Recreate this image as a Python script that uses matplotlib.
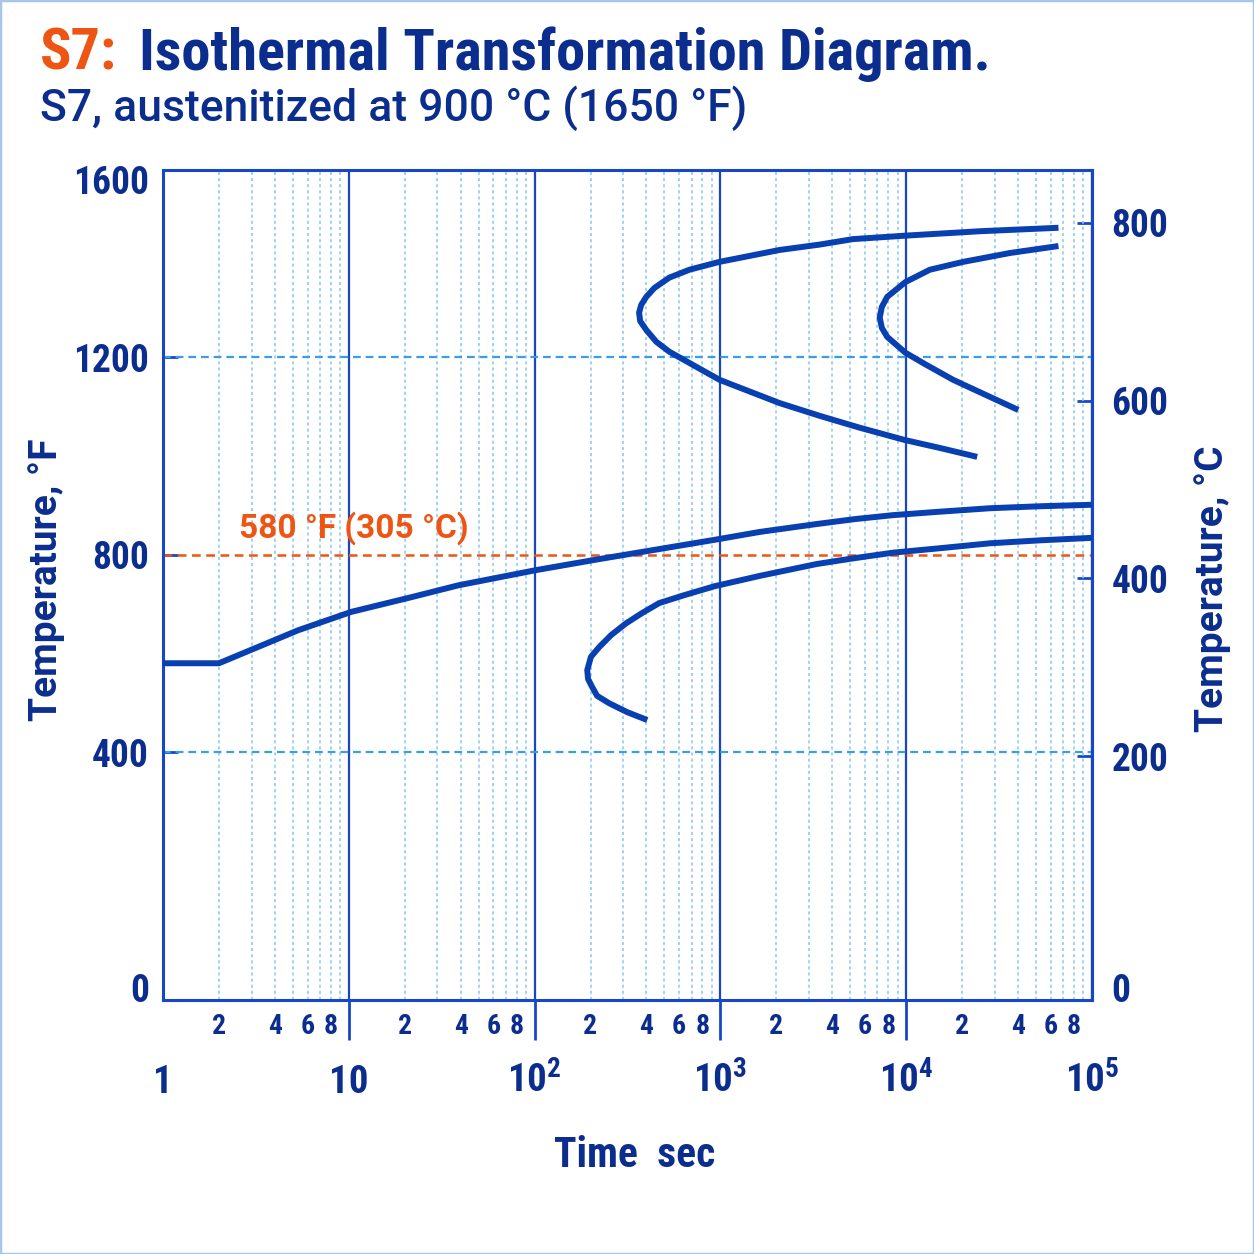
import numpy as np
import matplotlib
matplotlib.use('Agg')
import matplotlib.pyplot as plt
import matplotlib.transforms as mtransforms
from matplotlib.ticker import FixedLocator, FuncFormatter

plt.rcParams['font.family'] = ['Roboto Condensed', 'DejaVu Sans']
plt.rcParams['mathtext.fontset'] = 'custom'
plt.rcParams['mathtext.rm'] = 'Roboto Condensed:bold'
plt.rcParams['mathtext.bf'] = 'Roboto Condensed:bold'

# colours
TEXT_BLUE = '#0B2D8E'
CURVE_BLUE = '#0840B2'
AXIS_BLUE = '#1747C6'
GRID_LIGHT = '#86C6F2'
GRID_DASH = '#3B9CEB'
ORANGE = '#EE5412'

# curves: time in s, temperature in °F
# upper C-curve (outer)
outer_t = [66000, 25000, 9860, 5160, 3430, 2080, 990, 681, 531, 441, 399, 375, 365, 370, 399,
           452, 531, 990, 2080, 3430, 5630, 9860, 15200, 24100]
outer_f = [1462, 1455, 1446, 1439, 1428, 1417, 1393, 1377, 1361, 1340, 1322, 1306, 1290, 1273,
           1255, 1231, 1211, 1154, 1107, 1081, 1057, 1032, 1016, 998]

# upper C-curve (inner)
inner_t = [66000, 36300, 20300, 13400, 9900, 7900, 7400, 7200, 7400, 7900, 9900, 12600, 17900,
           26600, 40100]
inner_f = [1425, 1411, 1393, 1377, 1352, 1322, 1302, 1280, 1259, 1241, 1209, 1186, 1154,
           1124, 1093]

# lower long curve
bain_t = [1, 2, 5.35, 10.3, 21.8, 39, 103, 223, 930, 1630, 3300, 5300, 8500, 15200, 28300,
          52700, 100000]
bain_f = [580, 580, 647, 684, 714, 738, 769, 791, 830, 846, 862, 872, 880, 887, 894,
          898, 901]

# lower C-curve
lower_t = [100000, 52700, 28300, 15200, 8500, 5300, 3300, 1630, 930, 640, 469, 380, 311, 258,
           223, 201, 192, 194, 204, 217, 252, 315, 404]
lower_f = [834, 829, 823, 813, 804, 793, 781, 757, 736, 718, 702, 682, 661, 637,
           613, 593, 566, 548, 532, 514, 499, 481, 465]

ms_f = 800
ms_label = '580 °F (305 °C)'

decades = [1, 10, 100, 1000, 10000, 100000]
decade_labels = ['1', '10', r'$\mathbf{10}^{\mathbf{2}}$', r'$\mathbf{10}^{\mathbf{3}}$',
                 r'$\mathbf{10}^{\mathbf{4}}$', r'$\mathbf{10}^{\mathbf{5}}$']
minor_ticks = [m * 10 ** d for d in range(5) for m in range(2, 10)]

f_grid = [400, 1200]
f_ticks = [-76, 400, 800, 1200, 1559]
f_tick_labels = ['0', '400', '800', '1200', '1600']
c_ticks = [-60, 200, 400, 600, 800]
c_tick_labels = ['0', '200', '400', '600', '800']


def mantissa(v):
    return int(round(v / 10 ** np.floor(np.log10(v) + 1e-9)))


fig = plt.figure(figsize=(12.54, 12.54), dpi=100)
fig.patch.set_facecolor('white')
fig.add_artist(plt.Rectangle((0, 0), 1, 1, transform=fig.transFigure, fill=False,
                             edgecolor='#A8C6EC', lw=2.5))

ax = fig.add_axes([163 / 1254, 1 - 1000 / 1254, (1092 - 163) / 1254, 830 / 1254])
ax.set_xscale('log')
ax.set_xlim(1, 1e5)
ax.set_ylim(-102, 1579)

# grid
ax.set_xticks(decades)
ax.set_xticklabels([''] * len(decades))
ax.xaxis.set_minor_locator(FixedLocator(minor_ticks))
ax.xaxis.set_minor_formatter(FuncFormatter(
    lambda v, p: str(mantissa(v)) if mantissa(v) in (2, 4, 6, 8) else ''))
ax.grid(which='minor', axis='x', color=GRID_LIGHT, lw=1.1, ls=(0, (2, 2)))
ax.grid(which='major', axis='x', color=AXIS_BLUE, lw=1.6)
for g in f_grid:
    ax.axhline(g, color=GRID_DASH, lw=1.6, ls=(0, (3.5, 2.2)), zorder=1)
ax.axhline(ms_f, color=ORANGE, lw=1.8, ls=(0, (3.5, 2.2)), zorder=1)
ax.set_axisbelow(True)

for s in ax.spines.values():
    s.set_color(AXIS_BLUE)
    s.set_linewidth(2.2)

# curves
for t, f in [(outer_t, outer_f), (inner_t, inner_f), (bain_t, bain_f), (lower_t, lower_f)]:
    ax.plot(t, f, color=CURVE_BLUE, lw=4.3, solid_capstyle='butt',
            solid_joinstyle='round', zorder=3, clip_on=False)

ax.text(2.57, 854, ms_label, color=ORANGE, fontsize=24, fontweight='bold',
        family=['Roboto', 'DejaVu Sans'], ha='left', va='center')

# x ticks
ax.tick_params(axis='x', which='major', direction='out', length=29, width=2,
               color=AXIS_BLUE)
ax.tick_params(axis='x', which='minor', length=0, pad=9, labelsize=20,
               labelcolor=TEXT_BLUE)
for lab in ax.xaxis.get_minorticklabels():
    lab.set_fontweight('bold')
majors = ax.xaxis.get_major_ticks()
majors[0].tick1line.set_visible(False)
majors[-1].tick1line.set_visible(False)

trans = mtransforms.blended_transform_factory(ax.transData, ax.transAxes)
for d, lab in zip(decades, decade_labels):
    ax.text(d, -0.112, lab, transform=trans, ha='center', va='baseline',
            fontsize=28, fontweight='bold', color=TEXT_BLUE)

# left y axis
ax.set_yticks(f_ticks)
ax.set_yticklabels(f_tick_labels, fontweight='bold')
ax.tick_params(axis='y', direction='in', length=11, width=2, color=AXIS_BLUE,
               labelsize=27, labelcolor=TEXT_BLUE, pad=10)
yt = ax.yaxis.get_major_ticks()
yt[0].tick1line.set_visible(False)
yt[-1].tick1line.set_visible(False)

# right y axis in °C
sec = ax.secondary_yaxis('right', functions=(lambda f: (f - 32) / 1.8, lambda c: c * 1.8 + 32))
sec.set_yticks(c_ticks)
sec.set_yticklabels(c_tick_labels, fontweight='bold')
sec.tick_params(axis='y', direction='in', length=11, width=2, color=AXIS_BLUE,
                labelsize=27, labelcolor=TEXT_BLUE, pad=14)
sec.spines['right'].set_color(AXIS_BLUE)
sec.spines['right'].set_linewidth(2.2)
st = sec.yaxis.get_major_ticks()
st[0].tick2line.set_visible(False)
st[0].tick1line.set_visible(False)

label_font = ['Roboto', 'DejaVu Sans']
ax.set_ylabel('Temperature, °F', fontsize=28, fontweight='bold', color=TEXT_BLUE,
              family=label_font)
ax.yaxis.set_label_coords(-0.105, 0.506)
sec.set_ylabel('Temperature, °C', fontsize=28, fontweight='bold', color=TEXT_BLUE,
               family=label_font)
sec.yaxis.set_label_coords(1.110, 0.496, transform=ax.transAxes)
ax.set_xlabel('Time  sec', fontsize=30, fontweight='bold', color=TEXT_BLUE)
ax.xaxis.set_label_coords(0.508, -0.163)

# titles
t1 = fig.text(40 / 1254, 1 - 70 / 1254, 'S7:', color=ORANGE, fontsize=42,
              fontweight='bold', va='baseline', ha='left')
fig.canvas.draw()
bb = t1.get_window_extent()
fig.text((bb.x1 + 22) / 1254, 1 - 70 / 1254, 'Isothermal Transformation Diagram.',
         color=TEXT_BLUE, fontsize=42, fontweight='bold', va='baseline', ha='left')
fig.text(40 / 1254, 1 - 121 / 1254, 'S7, austenitized at 900 °C (1650 °F)',
         color=TEXT_BLUE, fontsize=32, fontweight=500, family=['Roboto', 'DejaVu Sans'],
         va='baseline', ha='left')

fig.savefig('out.png', dpi=100, facecolor='white')
